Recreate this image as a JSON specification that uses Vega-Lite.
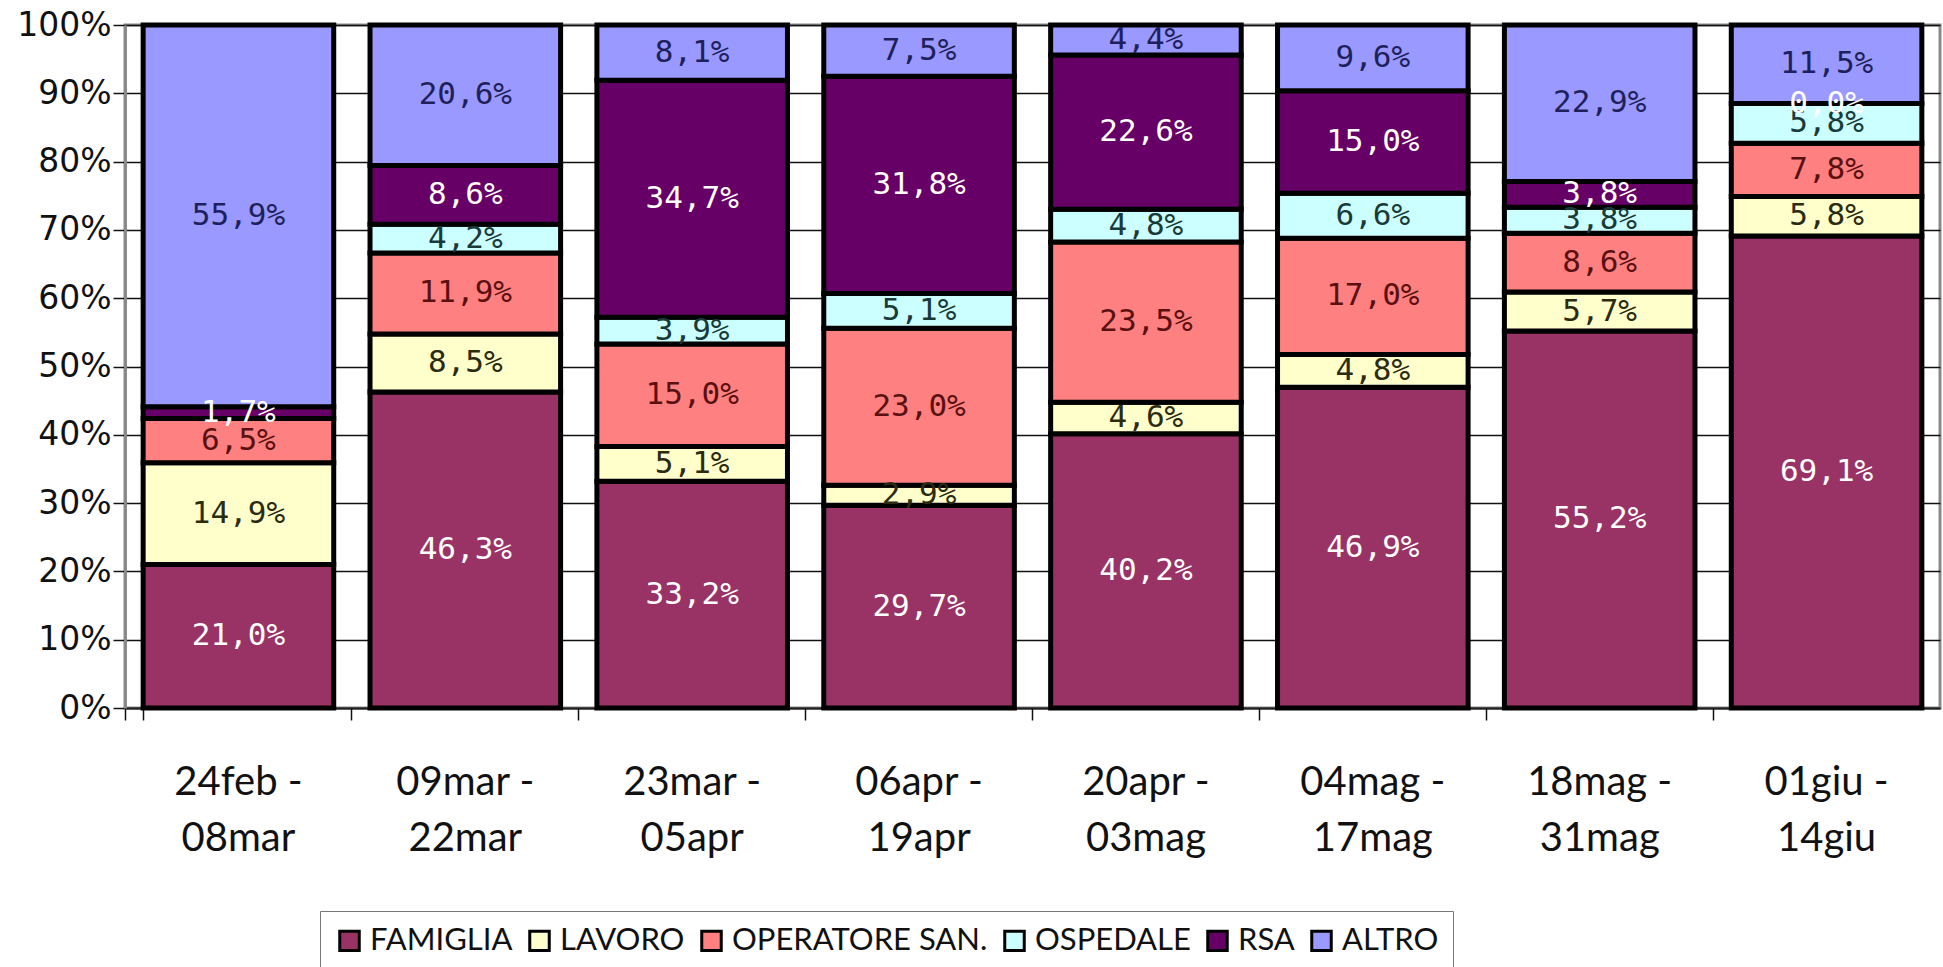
{
  "$schema": "https://vega.github.io/schema/vega-lite/v6.json",
  "width": 1815,
  "height": 683,
  "autosize": {"type": "none"},
  "padding": {"left": 125, "top": 25, "right": 3, "bottom": 259},
  "background": "white",
  "config": {
    "view": {"stroke": "#8a8a8a", "strokeWidth": 3},
    "axis": {"grid": false}
  },
  "data": {
    "values": [
      {"periodo": "24feb - 08mar", "cat": "FAMIGLIA", "v": 21.0},
      {"periodo": "24feb - 08mar", "cat": "LAVORO", "v": 14.9},
      {"periodo": "24feb - 08mar", "cat": "OPERATORE SAN.", "v": 6.5},
      {"periodo": "24feb - 08mar", "cat": "RSA", "v": 1.7},
      {"periodo": "24feb - 08mar", "cat": "ALTRO", "v": 55.9},
      {"periodo": "09mar - 22mar", "cat": "FAMIGLIA", "v": 46.3},
      {"periodo": "09mar - 22mar", "cat": "LAVORO", "v": 8.5},
      {"periodo": "09mar - 22mar", "cat": "OPERATORE SAN.", "v": 11.9},
      {"periodo": "09mar - 22mar", "cat": "OSPEDALE", "v": 4.2},
      {"periodo": "09mar - 22mar", "cat": "RSA", "v": 8.6},
      {"periodo": "09mar - 22mar", "cat": "ALTRO", "v": 20.6},
      {"periodo": "23mar - 05apr", "cat": "FAMIGLIA", "v": 33.2},
      {"periodo": "23mar - 05apr", "cat": "LAVORO", "v": 5.1},
      {"periodo": "23mar - 05apr", "cat": "OPERATORE SAN.", "v": 15.0},
      {"periodo": "23mar - 05apr", "cat": "OSPEDALE", "v": 3.9},
      {"periodo": "23mar - 05apr", "cat": "RSA", "v": 34.7},
      {"periodo": "23mar - 05apr", "cat": "ALTRO", "v": 8.1},
      {"periodo": "06apr - 19apr", "cat": "FAMIGLIA", "v": 29.7},
      {"periodo": "06apr - 19apr", "cat": "LAVORO", "v": 2.9},
      {"periodo": "06apr - 19apr", "cat": "OPERATORE SAN.", "v": 23.0},
      {"periodo": "06apr - 19apr", "cat": "OSPEDALE", "v": 5.1},
      {"periodo": "06apr - 19apr", "cat": "RSA", "v": 31.8},
      {"periodo": "06apr - 19apr", "cat": "ALTRO", "v": 7.5},
      {"periodo": "20apr - 03mag", "cat": "FAMIGLIA", "v": 40.2},
      {"periodo": "20apr - 03mag", "cat": "LAVORO", "v": 4.6},
      {"periodo": "20apr - 03mag", "cat": "OPERATORE SAN.", "v": 23.5},
      {"periodo": "20apr - 03mag", "cat": "OSPEDALE", "v": 4.8},
      {"periodo": "20apr - 03mag", "cat": "RSA", "v": 22.6},
      {"periodo": "20apr - 03mag", "cat": "ALTRO", "v": 4.4},
      {"periodo": "04mag - 17mag", "cat": "FAMIGLIA", "v": 46.9},
      {"periodo": "04mag - 17mag", "cat": "LAVORO", "v": 4.8},
      {"periodo": "04mag - 17mag", "cat": "OPERATORE SAN.", "v": 17.0},
      {"periodo": "04mag - 17mag", "cat": "OSPEDALE", "v": 6.6},
      {"periodo": "04mag - 17mag", "cat": "RSA", "v": 15.0},
      {"periodo": "04mag - 17mag", "cat": "ALTRO", "v": 9.6},
      {"periodo": "18mag - 31mag", "cat": "FAMIGLIA", "v": 55.2},
      {"periodo": "18mag - 31mag", "cat": "LAVORO", "v": 5.7},
      {"periodo": "18mag - 31mag", "cat": "OPERATORE SAN.", "v": 8.6},
      {"periodo": "18mag - 31mag", "cat": "OSPEDALE", "v": 3.8},
      {"periodo": "18mag - 31mag", "cat": "RSA", "v": 3.8},
      {"periodo": "18mag - 31mag", "cat": "ALTRO", "v": 22.9},
      {"periodo": "01giu - 14giu", "cat": "FAMIGLIA", "v": 69.1},
      {"periodo": "01giu - 14giu", "cat": "LAVORO", "v": 5.8},
      {"periodo": "01giu - 14giu", "cat": "OPERATORE SAN.", "v": 7.8},
      {"periodo": "01giu - 14giu", "cat": "OSPEDALE", "v": 5.8},
      {"periodo": "01giu - 14giu", "cat": "RSA", "v": 0.0},
      {"periodo": "01giu - 14giu", "cat": "ALTRO", "v": 11.5}
    ]
  },
  "transform": [
    {"calculate": "indexof(['FAMIGLIA','LAVORO','OPERATORE SAN.','OSPEDALE','RSA','ALTRO'], datum.cat)", "as": "k"},
    {"stack": "v", "groupby": ["periodo"], "sort": [{"field": "k", "order": "ascending"}], "as": ["y0", "y1"], "offset": "normalize"},
    {"calculate": "(datum.y0 + datum.y1) / 2", "as": "ym"},
    {"calculate": "replace(format(datum.v, '.1f'), '.', ',') + '%'", "as": "lab"}
  ],
  "layer": [
    {
      "mark": {"type": "bar", "stroke": "black", "strokeWidth": 5},
      "encoding": {
        "x": {
          "field": "periodo",
          "type": "nominal",
          "sort": null,
          "scale": {"paddingInner": 0.16, "paddingOuter": 0.08},
          "axis": {
            "title": null,
            "orient": "bottom",
            "labelAngle": 0,
            "labelFont": "Lato",
            "labelFontSize": 40,
            "labelColor": "#111",
            "labelLineHeight": 56,
            "labelPadding": 54,
            "labelBaseline": "top",
            "labelExpr": "[split(datum.label, ' - ')[0] + ' -', split(datum.label, ' - ')[1]]",
            "ticks": false,
            "domainColor": "#222",
            "domainWidth": 2
          }
        },
        "y": {
          "field": "y0",
          "type": "quantitative",
          "scale": {"domain": [0, 1], "nice": false},
          "axis": {
            "title": null,
            "format": ".0%",
            "values": [0, 0.1, 0.2, 0.3, 0.4, 0.5, 0.6, 0.7, 0.8, 0.9, 1],
            "grid": true,
            "gridColor": "#111",
            "gridWidth": 1.5,
            "tickColor": "#111",
            "tickSize": 12,
            "tickWidth": 1.5,
            "labelFont": "DejaVu Sans",
            "labelFontSize": 33,
            "labelColor": "#111",
            "labelPadding": 2,
            "domainColor": "#8a8a8a",
            "domainWidth": 3
          }
        },
        "y2": {"field": "y1"},
        "color": {
          "field": "cat",
          "type": "nominal",
          "scale": {
            "domain": ["FAMIGLIA", "LAVORO", "OPERATORE SAN.", "OSPEDALE", "RSA", "ALTRO"],
            "range": ["#993366", "#FFFFCC", "#FF8080", "#CCFFFF", "#660066", "#9999FF"]
          },
          "legend": {
            "title": null,
            "orient": "none",
            "legendX": 195,
            "legendY": 886,
            "direction": "horizontal",
            "columns": 6,
            "columnPadding": 10,
            "symbolType": "square",
            "symbolSize": 380,
            "symbolStrokeColor": "black",
            "symbolStrokeWidth": 3,
            "symbolOpacity": 1,
            "labelFont": "Lato",
            "labelFontSize": 31,
            "labelLimit": 0,
            "labelColor": "#111",
            "labelOffset": 5,
            "strokeColor": "#777",
            "padding": 14,
            "fillColor": "white"
          }
        }
      }
    },
    {
      "mark": {"type": "text", "font": "DejaVu Sans Mono", "fontSize": 31, "baseline": "middle", "align": "center"},
      "encoding": {
        "x": {
          "field": "periodo",
          "type": "nominal",
          "sort": null,
          "axis": {
            "title": null,
            "orient": "bottom",
            "labels": false,
            "domain": false,
            "ticks": true,
            "bandPosition": -0.0952,
            "tickExtra": true,
            "tickSize": 12,
            "tickColor": "#111",
            "tickWidth": 1.5
          }
        },
        "y": {"field": "ym", "type": "quantitative"},
        "text": {"field": "lab"},
        "color": {
          "field": "cat",
          "type": "nominal",
          "scale": {
            "domain": ["FAMIGLIA", "LAVORO", "OPERATORE SAN.", "OSPEDALE", "RSA", "ALTRO"],
            "range": ["#ffffff", "#2b2b10", "#5a1010", "#1a3a3a", "#ffffff", "#1f1f5c"]
          },
          "legend": null
        }
      }
    }
  ],
  "resolve": {"scale": {"color": "independent"}, "axis": {"x": "independent"}}
}
